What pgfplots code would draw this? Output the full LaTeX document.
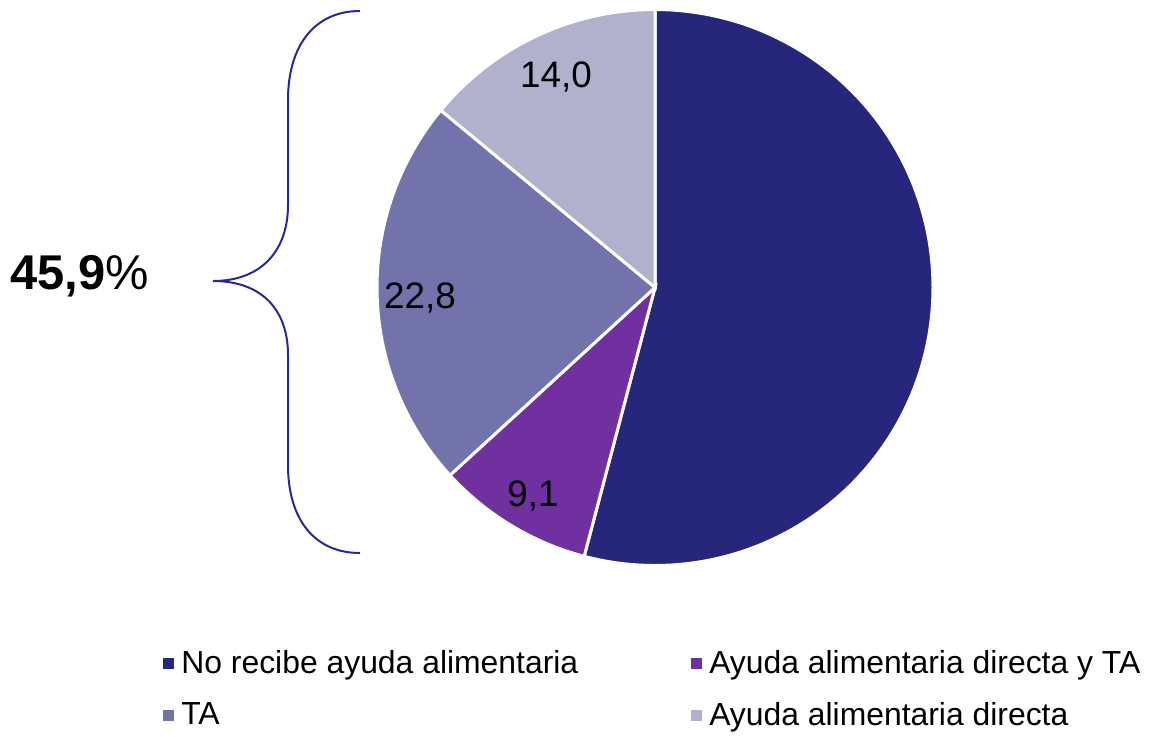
\documentclass[border=0pt]{standalone}
\usepackage{pgfplots}
\pgfplotsset{compat=1.18}
\usepackage{fontspec}
\setmainfont{Liberation Sans}
\definecolor{cNo}{RGB}{38,38,122}
\definecolor{cDyT}{RGB}{112,48,160}
\definecolor{cTA}{RGB}{115,115,171}
\definecolor{cDir}{RGB}{177,177,205}
\definecolor{cBrace}{RGB}{40,40,150}
% shares (%)
\def\vA{54.1}\def\vB{9.1}\def\vC{22.8}\def\vD{14.0}
\pgfmathsetmacro\aA{90}
\pgfmathsetmacro\aB{\aA-3.6*\vA}
\pgfmathsetmacro\aC{\aB-3.6*\vB}
\pgfmathsetmacro\aD{\aC-3.6*\vC}
\pgfmathsetmacro\aE{\aD-3.6*\vD}
\begin{document}
\begin{tikzpicture}
\begin{axis}[
  scale only axis, width=575.5bp, height=364bp,
  xmin=0, xmax=1151, ymin=0, ymax=728,
  hide axis, clip=false,
  legend columns=2,
  legend cell align=left,
  legend image code/.code={\fill[#1] (0bp,-3.5bp) rectangle (7bp,3.5bp);},
  legend style={draw=none, fill=none, font=\fontsize{16}{18}\selectfont,
    at={(axis cs:154,86)}, anchor=north west,
    row sep=9bp,
    /tikz/every even column/.append style={column sep=53bp}},
  every axis plot/.append style={draw=white, line width=1.5pt, samples=120, variable=\t},
]
\path (axis cs:0,0) rectangle (axis cs:1151,728);
\addplot[fill=cNo, domain=\aB:\aA] ({655+278*cos(t)},{440.5+278*sin(t)}) -- (axis cs:655,440.5) -- cycle;
\addlegendentry{No recibe ayuda alimentaria}
\addplot[fill=cDyT, domain=\aC:\aB] ({655+278*cos(t)},{440.5+278*sin(t)}) -- (axis cs:655,440.5) -- cycle;
\addlegendentry{Ayuda alimentaria directa y TA}
\addplot[fill=cTA, domain=\aD:\aC] ({655+278*cos(t)},{440.5+278*sin(t)}) -- (axis cs:655,440.5) -- cycle;
\addlegendentry{TA}
\addplot[fill=cDir, domain=\aE:\aD] ({655+278*cos(t)},{440.5+278*sin(t)}) -- (axis cs:655,440.5) -- cycle;
\addlegendentry{Ayuda alimentaria directa}
% slice labels
\node[font=\fontsize{18.5}{21}\selectfont] at (axis cs:556,651) {14,0};
\node[font=\fontsize{18.5}{21}\selectfont] at (axis cs:420,430) {22,8};
\node[font=\fontsize{18.5}{21}\selectfont] at (axis cs:533,232) {9,1};
% brace
\draw[cBrace, line width=1pt]
  (axis cs:360,717) .. controls (axis cs:315,717) and (axis cs:288,683) .. (axis cs:288,628)
  -- (axis cs:288,523) .. controls (axis cs:288,478) and (axis cs:262,447) .. (axis cs:213,447)
  .. controls (axis cs:262,447) and (axis cs:288,418) .. (axis cs:288,373)
  -- (axis cs:288,263) .. controls (axis cs:288,208) and (axis cs:315,175) .. (axis cs:360,175);
\node[anchor=west, font=\fontsize{24.5}{28}\selectfont, inner sep=0pt] at (axis cs:10,452) {\textbf{45,9}\%};
\end{axis}
\end{tikzpicture}
\end{document}
